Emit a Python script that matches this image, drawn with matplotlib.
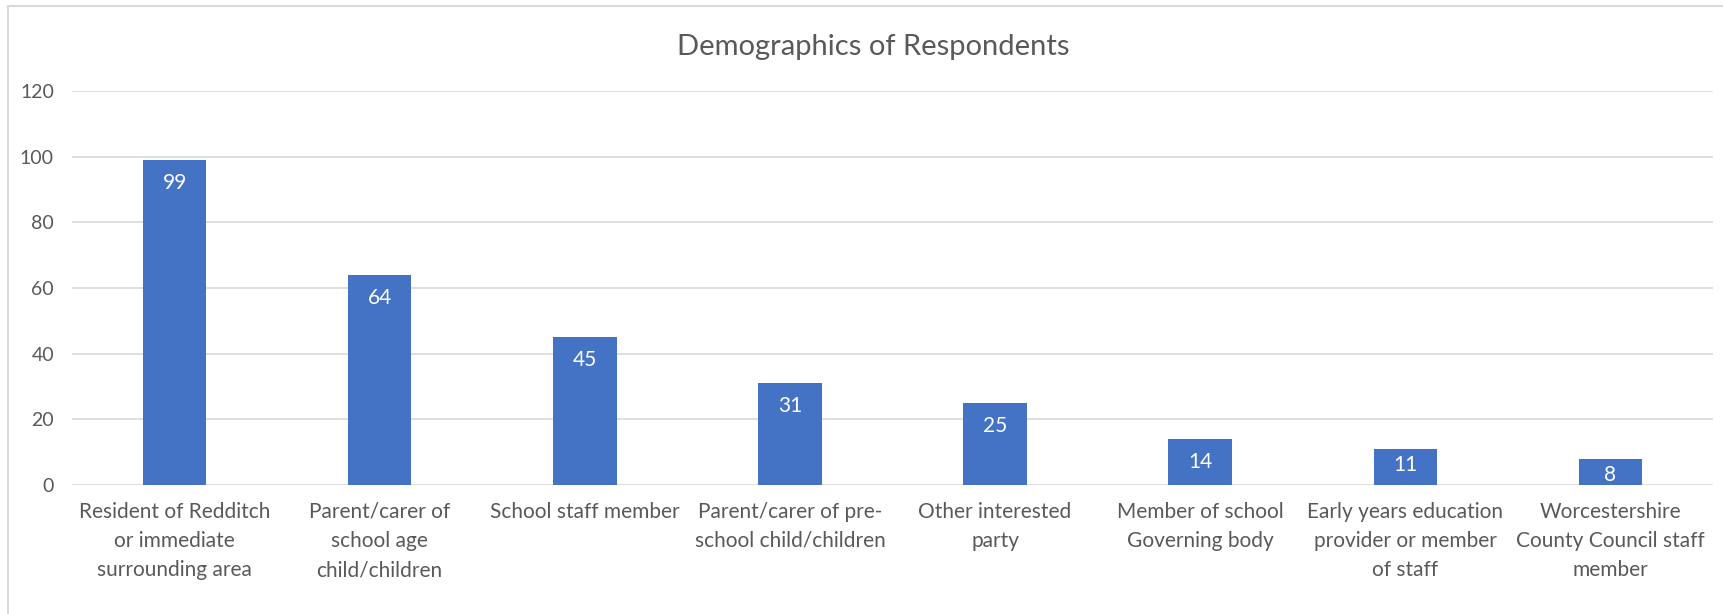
import matplotlib
matplotlib.use('Agg')
import matplotlib.pyplot as plt
from matplotlib.patches import Rectangle

# Survey respondents by category
categories = [
    'Resident of Redditch\nor immediate\nsurrounding area',
    'Parent/carer of\nschool age\nchild/children',
    'School staff member',
    'Parent/carer of pre-\nschool child/children',
    'Other interested\nparty',
    'Member of school\nGoverning body',
    'Early years education\nprovider or member\nof staff',
    'Worcestershire\nCounty Council staff\nmember',
]
counts = [99, 64, 45, 31, 25, 14, 11, 8]
y_ticks = [0, 20, 40, 60, 80, 100, 120]

plt.rcParams['font.family'] = ['Lato', 'DejaVu Sans']

fig = plt.figure(figsize=(17.24, 6.14), dpi=100)
ax = fig.add_axes([72 / 1724, 1 - 485 / 614, (1713 - 72) / 1724, (485 - 91) / 614])

x = list(range(len(categories)))
bars = ax.bar(x, counts, width=0.31, color='#4472c4', zorder=3)

for b, v in zip(bars, counts):
    # short bars get their label pulled up so it stays inside
    off = -16.5 if v >= 12 else -11.5
    ax.annotate(str(v), (b.get_x() + b.get_width() / 2, v),
                xytext=(0, off), textcoords='offset points',
                ha='center', va='center', color='white', fontsize=15)

ax.set_xlim(-0.5, len(categories) - 0.5)
ax.set_ylim(0, 120)
ax.set_yticks(y_ticks)
ax.set_xticks(x)
ax.set_xticklabels(categories, linespacing=1.58)
ax.grid(axis='y', color='#d9d9d9', linewidth=1.2, zorder=0)
for s in ax.spines.values():
    s.set_visible(False)
ax.tick_params(axis='both', length=0, colors='#595959')
ax.tick_params(axis='x', pad=12, labelsize=15)
ax.tick_params(axis='y', pad=13, labelsize=14)

fig.text(873 / 1724, 1 - 47 / 614, 'Demographics of Respondents',
         ha='center', va='center', fontsize=21, color='#595959')

# light chart border, cut off at the right and bottom
fig.patches.append(Rectangle((8 / 1724, -0.1), 1.2, 1 - 6 / 614 + 0.1,
                             transform=fig.transFigure, fill=False,
                             edgecolor='#d9d9d9', linewidth=1.5))

fig.savefig('out.png', dpi=100)
